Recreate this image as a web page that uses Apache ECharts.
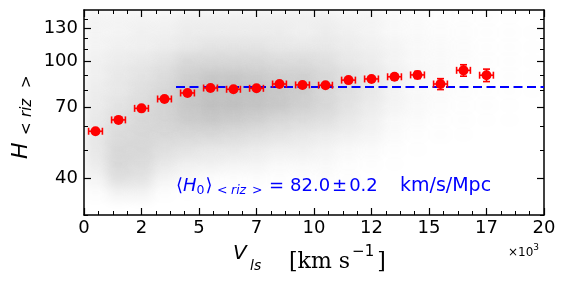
<!DOCTYPE html>
<html><head><meta charset="utf-8">
<script src="https://cdn.jsdelivr.net/npm/echarts@6/dist/echarts.min.js"></script>
<style>html,body{margin:0;padding:0;background:#fff}#c{width:566px;height:286px}</style>
</head><body><div id="c"></div>
<script>
// ---- data ----
const binX    = [0.5, 1.5, 2.5, 3.5, 4.5, 5.5, 6.5, 7.5, 8.5, 9.5, 10.5, 11.5, 12.5, 13.5, 14.5, 15.5, 16.5, 17.5];
const binH    = [57.9, 63.3, 69.3, 74.6, 78.2, 81.3, 80.5, 81.1, 83.9, 83.3, 83.1, 86.5, 87.3, 88.8, 90.1, 83.9, 93.4, 89.9];
const binXErr = [0.3, 0.3, 0.3, 0.3, 0.3, 0.3, 0.3, 0.3, 0.3, 0.3, 0.3, 0.3, 0.3, 0.3, 0.3, 0.3, 0.3, 0.3];
const binHErr = [1.0, 1.0, 1.0, 1.0, 1.0, 1.0, 1.0, 1.0, 1.0, 1.0, 1.0, 1.2, 1.5, 1.8, 2.5, 3.6, 4.2, 4.4];
const H0fit = 82.0;
const fitRange = [4.0, 20];
const xRange = [0, 20];
const xInterval = 2.5;
const yRange = [30, 150];
const yMajorTicks = [40, 70, 100, 130];
const yMinorTicks = [30, 50, 60, 80, 90, 110, 120, 140];
// background cloud: density (0..10) per cell; columns are 1e3 km/s wide from 0 to 20
const cloudColEdges = [0,1,2,3,4,5,6,7,8,9,10,11,12,13,14,15,16,17,18,19,20];
const cloudRowEdges = [30, 33.6, 37.7, 42.3, 47.4, 53.2, 59.7, 66.9, 75.0, 84.1, 94.4, 105.9, 118.8, 133.3, 150];
const cloudDensity = [ // bottom row first
  [0,0,0,0,0,0,0,0,0,0, 0,0,0,0,0,0,0,0,0,0],
  [0.5,1.5,1.5,0.3,0.2,0,0,0,0,0, 0,0,0,0,0,0,0,0,0,0],
  [1.5,4,3.5,1.5,1,0.5,0.5,0.5,0.3,0.3, 0.5,0.3,0,0,0,0,0,0,0,0],
  [2.5,5,4.5,3,2,2,1.5,1.5,1,1, 1,0.5,0.3,0.2,0,0,0,0,0,0],
  [3,5,5,4,3.5,3,3,2.5,2,2, 1.5,1,0.7,0.4,0.2,0.1,0.1,0,0,0],
  [3,4.5,5,5,5,5,4.5,4,3.5,3, 2.5,2,1.5,0.7,0.4,0.3,0.2,0.1,0.1,0.05],
  [3,4,5,5.5,6.5,7,6.5,6,5,4.5, 4,3,2,1,0.7,0.4,0.3,0.2,0.2,0.1],
  [2.5,3.5,4.5,5.5,7,8,8,7.5,7,6, 5,3.5,2.5,1.5,1,0.6,0.4,0.3,0.2,0.1],
  [2.5,3,4,5,7,8,8,8,7,6.5, 5,4,3,1.5,1,0.7,0.5,0.4,0.3,0.2],
  [2,3,3.5,4.5,6,7,7,6.5,6,6, 5,4,3,2,1.2,0.8,0.6,0.4,0.3,0.2],
  [2,2.5,3,3.5,5,5,5,5,4.5,4.5, 4,3,2.5,1.5,1,0.8,0.6,0.4,0.3,0.2],
  [1.5,2,2,2.5,3,3.5,3.5,3.5,3,3, 3,2.5,2,1.5,1,0.8,0.6,0.4,0.3,0.2],
  [1.5,1.5,2,2,2.5,2.5,2.5,2.5,2.5,2, 2.5,2,1.5,1,0.8,0.6,0.5,0.4,0.3,0.2],
  [1.5,1.5,1.5,1.5,2,2,2,2,2,2, 2,1.5,1.5,1,0.7,0.5,0.4,0.3,0.2,0.1]
];
// text pieces
const yTitle = [{t: 'H', fs: 22, it: true}, {t: '<', fs: 15, dy: 3.5, x: 24}, {t: 'riz', fs: 15, it: true, dy: 3.5, x: 42}, {t: '>', fs: 15, dy: 3.5, x: 71}];
const xTitle = [{t: 'V', fs: 20, it: true, x: 233, dy: -8.5}, {t: 'ls', fs: 14, it: true, x: 250, dy: 1.5},
                {t: '[km s', fs: 22, ff: 'DejaVu Serif', x: 289}, {t: '\u22121', fs: 15, dy: -12.5, gap: 2}, {t: ']', fs: 22, ff: 'DejaVu Serif', gap: 3}];
const annot = [{t: '\u27E8', fs: 18, x: 176}, {t: 'H', fs: 18, it: true}, {t: '0', fs: 12.5, dy: 2.5}, {t: '\u27E9', fs: 18, gap: 1},
               {t: '<', fs: 12.5, dy: 2.5, x: 217}, {t: 'riz', fs: 12.5, it: true, dy: 2.5, x: 231}, {t: '>', fs: 12.5, dy: 2.5, x: 252},
               {t: '=', fs: 18, x: 269}, {t: '82.0', fs: 18, x: 290}, {t: '\u00B1', fs: 18, gap: 2}, {t: '0.2', fs: 18, gap: 2},
               {t: 'km/s/Mpc', fs: 19, x: 400}];
const scaleNote = [{t: '\u00D710', fs: 12, x: 508}, {t: '3', fs: 9, dy: -6}];

// ---- build ----
const L = Math.log10;
const FONT = 'DejaVu Sans';
const cloudData = [];
for (let r = 0; r < cloudDensity.length; r++) {
  for (let c = 0; c < cloudDensity[r].length; c++) {
    const d = cloudDensity[r][c];
    if (d > 0) cloudData.push([cloudColEdges[c], cloudColEdges[c+1], L(cloudRowEdges[r]), L(cloudRowEdges[r+1]), d]);
  }
}
const pointData = binX.map((x, i) => [x, L(binH[i])]);
const errData = binX.map((x, i) => [x, L(binH[i]), binXErr[i], L(binH[i] - binHErr[i]), L(binH[i] + binHErr[i])]);
const fitData = [[fitRange[0], L(H0fit)], [fitRange[1], L(H0fit)]];

const mctx = document.createElement('canvas').getContext('2d');
function textW(tk) {
  mctx.font = (tk.it ? 'italic ' : '') + tk.fs + 'px "' + (tk.ff || FONT) + '"';
  return mctx.measureText(tk.t).width;
}
// lay tokens along a baseline; returns graphic text elements
function layText(tokens, x0, base, color) {
  let x = x0;
  return tokens.map(tk => {
    if (tk.x != null) x = tk.x;
    x += tk.gap || 0;
    const el = {type: 'text', x: x, y: base + (tk.dy || 0) - 0.32 * tk.fs, silent: true,
      style: {text: tk.t, fontSize: tk.fs, fontFamily: tk.ff || FONT, fontStyle: tk.it ? 'italic' : 'normal',
              fill: color, align: 'left', verticalAlign: 'middle'}};
    x += textW(tk);
    return el;
  });
}

const tickCol = '#000';
function xAxisCfg(pos, show) {
  return {
    type: 'value', position: pos, min: xRange[0], max: xRange[1], interval: xInterval,
    axisLine: {show: true, onZero: false, lineStyle: {color: '#000', width: 1.5}},
    axisTick: {show: true, inside: true, length: 7, lineStyle: {color: tickCol, width: 1.2}},
    minorTick: {show: true, splitNumber: 4, length: 4, lineStyle: {color: tickCol, width: 1}},
    splitLine: {show: false}, minorSplitLine: {show: false},
    axisLabel: {show: show, margin: 4, fontSize: 18, fontFamily: FONT, color: '#000',
      formatter: v => String(Math.floor(v))}
  };
}
function yAxisCfg(pos, ticks, len, showLine, showLabel) {
  return {
    type: 'value', position: pos, min: L(yRange[0]), max: L(yRange[1]),
    axisLine: {show: showLine, onZero: false, lineStyle: {color: '#000', width: 1.5}},
    axisTick: {show: true, inside: true, length: len, customValues: ticks.map(L), lineStyle: {color: tickCol, width: len > 5 ? 1.2 : 1}},
    splitLine: {show: false},
    axisLabel: {show: showLabel, customValues: yMajorTicks.map(L), margin: 6, fontSize: 18, fontFamily: FONT, color: '#000',
      formatter: v => String(Math.round(Math.pow(10, v)))}
  };
}

const option = {
  animation: false,
  backgroundColor: '#fff',
  grid: {left: 84, right: 22, top: 10, bottom: 71, containLabel: false},
  xAxis: [xAxisCfg('bottom', true), xAxisCfg('top', false)],
  yAxis: [
    yAxisCfg('left', yMajorTicks, 7, true, true),
    yAxisCfg('left', yMinorTicks, 4, false, false),
    yAxisCfg('right', yMajorTicks, 7, true, false),
    yAxisCfg('right', yMinorTicks, 4, false, false)
  ],
  series: [
    {
      type: 'custom', name: 'cloud', xAxisIndex: 0, yAxisIndex: 0, z: 1, silent: true, clip: true,
      data: cloudData,
      renderItem: (params, api) => {
        const p0 = api.coord([api.value(0), api.value(3)]);
        const p1 = api.coord([api.value(1), api.value(2)]);
        const x0 = Math.round(p0[0]), y0 = Math.round(p0[1]);
        const x1 = Math.round(p1[0]), y1 = Math.round(p1[1]);
        const a = (api.value(4) * 0.033).toFixed(3);
        // the cell is drawn off-screen; only its blurred shadow lands in the cell
        return {type: 'rect', shape: {x: x0 - 1000, y: y0, width: x1 - x0, height: y1 - y0},
          style: {fill: '#000', shadowColor: 'rgba(0,0,0,' + a + ')', shadowBlur: 12, shadowOffsetX: 1000, shadowOffsetY: 0}};
      }
    },
    {
      type: 'line', name: 'fit', data: fitData, xAxisIndex: 0, yAxisIndex: 0, z: 3,
      symbol: 'none', silent: true,
      lineStyle: {color: '#0000ff', width: 2, type: [9, 4.5]}
    },
    {
      type: 'custom', name: 'err', data: errData, xAxisIndex: 0, yAxisIndex: 0, z: 4, silent: true,
      renderItem: (params, api) => {
        const x = api.value(0), y = api.value(1), xe = api.value(2), ylo = api.value(3), yhi = api.value(4);
        const l = api.coord([x - xe, y]), r = api.coord([x + xe, y]);
        const lo = api.coord([x, ylo]), hi = api.coord([x, yhi]);
        const cap = 3.5;
        const st = {stroke: '#ff0000', lineWidth: 1.6};
        const ln = (a, b, c, d) => ({type: 'line', shape: {x1: a, y1: b, x2: c, y2: d}, style: st});
        return {type: 'group', children: [
          ln(l[0], l[1], r[0], r[1]),
          ln(l[0], l[1] - cap, l[0], l[1] + cap),
          ln(r[0], r[1] - cap, r[0], r[1] + cap),
          ln(lo[0], lo[1], hi[0], hi[1]),
          ln(lo[0] - cap, lo[1], lo[0] + cap, lo[1]),
          ln(hi[0] - cap, hi[1], hi[0] + cap, hi[1])
        ]};
      }
    },
    {
      type: 'scatter', name: 'bins', data: pointData, xAxisIndex: 0, yAxisIndex: 0, z: 5,
      symbol: 'circle', symbolSize: 10, silent: true,
      itemStyle: {color: '#ff0000', opacity: 1}
    }
  ],
  graphic: [
    {type: 'group', x: 28.5, y: 159, rotation: Math.PI / 2, silent: true, children: layText(yTitle, 0, 0, '#000')},
    {type: 'group', x: 0, y: 0, silent: true, children: layText(xTitle, 0, 269, '#000')},
    {type: 'group', x: 0, y: 0, silent: true, children: layText(annot, 0, 192, '#0000ff')},
    {type: 'group', x: 0, y: 0, silent: true, children: layText(scaleNote, 0, 257, '#000')}
  ]
};
const chart = echarts.init(document.getElementById('c'), null, {renderer: 'canvas'});
chart.setOption(option);
</script>
</body></html>
